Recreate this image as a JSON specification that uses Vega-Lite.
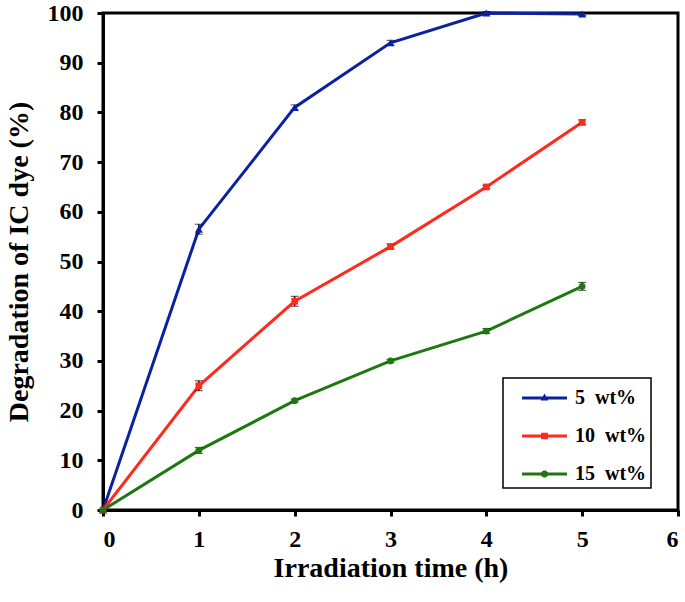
{
  "$schema": "https://vega.github.io/schema/vega-lite/v6.json",
  "width": 575,
  "height": 497,
  "autosize": "none",
  "padding": {"left": 103, "top": 13, "right": 7, "bottom": 92},
  "background": "white",
  "config": {
    "font": "Liberation Serif",
    "view": {"stroke": "black", "strokeWidth": 3},
    "axis": {
      "labelFont": "Liberation Serif", "labelFontWeight": "bold", "labelFontSize": 24, "labelColor": "black",
      "titleFont": "Liberation Serif", "titleFontWeight": "bold", "titleFontSize": 28, "titleColor": "black",
      "domainColor": "black", "domainWidth": 3, "tickColor": "black", "tickWidth": 3, "tickSize": 6,
      "grid": false, "labelOverlap": false
    },
    "legend": {
      "orient": "none", "legendX": 400, "legendY": 365,
      "strokeColor": "black", "padding": 4,
      "labelFont": "Liberation Serif", "labelFontWeight": "bold", "labelFontSize": 20, "labelColor": "black",
      "labelOffset": 36, "rowPadding": 12, "symbolSize": 1024, "symbolStrokeWidth": 0, "symbolOpacity": 1
    }
  },
  "data": {"values": [
    {"t": 0, "v": 0, "s": "5 wt%", "e": 0},
    {"t": 1, "v": 56.5, "s": "5 wt%", "e": 1},
    {"t": 2, "v": 81, "s": "5 wt%", "e": 0.5},
    {"t": 3, "v": 94, "s": "5 wt%", "e": 0.5},
    {"t": 4, "v": 100, "s": "5 wt%", "e": 0.3},
    {"t": 5, "v": 99.8, "s": "5 wt%", "e": 0.3},
    {"t": 0, "v": 0, "s": "10 wt%", "e": 0},
    {"t": 1, "v": 25, "s": "10 wt%", "e": 1},
    {"t": 2, "v": 42, "s": "10 wt%", "e": 1},
    {"t": 3, "v": 53, "s": "10 wt%", "e": 0.5},
    {"t": 4, "v": 65, "s": "10 wt%", "e": 0.3},
    {"t": 5, "v": 78, "s": "10 wt%", "e": 0.5},
    {"t": 0, "v": 0, "s": "15 wt%", "e": 0},
    {"t": 1, "v": 12, "s": "15 wt%", "e": 0.6},
    {"t": 2, "v": 22, "s": "15 wt%", "e": 0.3},
    {"t": 3, "v": 30, "s": "15 wt%", "e": 0.3},
    {"t": 4, "v": 36, "s": "15 wt%", "e": 0.5},
    {"t": 5, "v": 45, "s": "15 wt%", "e": 0.8}
  ]},
  "encoding": {
    "x": {"field": "t", "type": "quantitative", "scale": {"domain": [0, 6], "nice": false},
          "axis": {"title": "Irradiation time (h)", "values": [0,1,2,3,4,5,6], "labelPadding": 11, "titlePadding": 3}},
    "y": {"field": "v", "type": "quantitative", "scale": {"domain": [0, 100], "nice": false},
          "axis": {"title": "Degradation of IC dye (%)", "values": [0,10,20,30,40,50,60,70,80,90,100], "labelPadding": 14, "titlePadding": 14}}
  },
  "layer": [
    {
      "mark": {"type": "line", "strokeWidth": 3},
      "encoding": {
        "color": {"field": "s", "type": "nominal",
                  "scale": {"domain": ["5 wt%", "10 wt%", "15 wt%"], "range": ["#0A22A0", "#FF2A1E", "#1E7810"]},
                  "legend": {
                    "title": null,
                    "labelExpr": "replace(datum.label, ' ', '\u00a0\u00a0') + '\u00a0\u00a0\u00a0\u00a0\u00a0\u00a0'",
                    "encode": {
                      "legend": {"update": {"strokeWidth": {"value": 1.5}}},
                      "symbols": {"update": {
                        "shape": {"signal": "datum.value === '5 wt%' ? 'M-0.06,-0.09L2.75,-0.09L2.75,0.09L-0.06,0.09Z M1.1,0.15L1.345,-0.28L1.59,0.15Z' : datum.value === '10 wt%' ? 'M-0.06,-0.09L2.75,-0.09L2.75,0.09L-0.06,0.09Z M1.13,-0.21L1.56,-0.21L1.56,0.21L1.13,0.21Z' : 'M-0.06,-0.09L1.12,-0.09L1.19,-0.16L1.28,-0.22L1.41,-0.22L1.5,-0.16L1.57,-0.09L2.75,-0.09L2.75,0.09L1.57,0.09L1.5,0.16L1.41,0.22L1.28,0.22L1.19,0.16L1.12,0.09L-0.06,0.09Z'"},
                        "fill": {"signal": "scale('color', datum.value)"},
                        "fillOpacity": {"value": 1},
                        "opacity": {"value": 1},
                        "strokeWidth": {"value": 0}
                      }}
                    }
                  }}
      }
    },
    {
      "mark": {"type": "errorbar", "ticks": {"size": 8, "color": "black", "strokeWidth": 1.5}, "rule": {"color": "black", "strokeWidth": 1.5}},
      "encoding": {
        "yError": {"field": "e"}
      }
    },
    {
      "transform": [{"filter": "datum.s === '5 wt%'"}],
      "mark": {"type": "point", "filled": true, "opacity": 1, "size": 65, "shape": "triangle-up"},
      "encoding": {"color": {"field": "s", "type": "nominal"}}
    },
    {
      "transform": [{"filter": "datum.s === '10 wt%'"}],
      "mark": {"type": "point", "filled": true, "opacity": 1, "size": 45, "shape": "square"},
      "encoding": {"color": {"field": "s", "type": "nominal"}}
    },
    {
      "transform": [{"filter": "datum.s === '15 wt%'"}],
      "mark": {"type": "point", "filled": true, "opacity": 1, "size": 45, "shape": "circle"},
      "encoding": {"color": {"field": "s", "type": "nominal"}}
    }
  ]
}
